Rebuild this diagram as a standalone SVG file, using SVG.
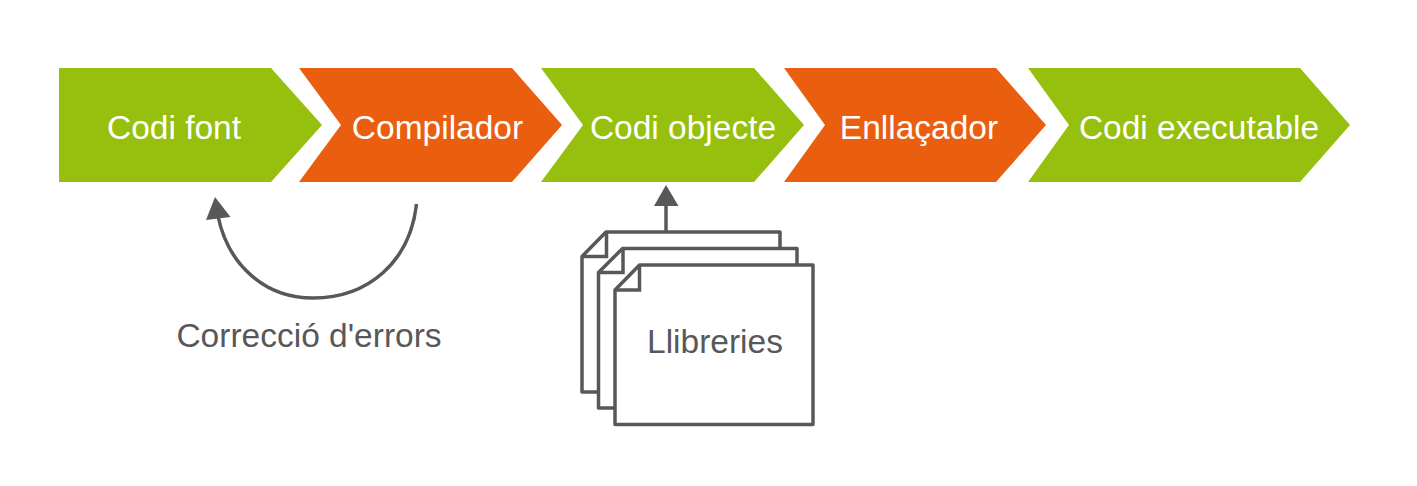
<svg xmlns="http://www.w3.org/2000/svg" width="1417" height="486" viewBox="0 0 1417 486">
<style>
.g{fill:#97bf0d}.o{fill:#ea5e0f}
.w{font:33.5px "Liberation Sans",Arial,sans-serif;fill:#fff;text-anchor:middle}
.d{font:33.5px "Liberation Sans",Arial,sans-serif;fill:#58585a;text-anchor:middle}
.p{fill:#fff;stroke:#58585a;stroke-width:3.5;stroke-linejoin:round}
.l{fill:none;stroke:#58585a;stroke-width:3.5}
.a{fill:#58585a}
</style>
<rect width="1417" height="486" fill="#fff"/>
<g id="codi-font"><polygon class="g" points="59,68 271,68 322,125 271,182 59,182"/><text class="w" x="174" y="139">Codi font</text></g>
<g id="compilador"><polygon class="o" points="299,68 512,68 562,125 512,182 299,182 341,125"/><text class="w" x="437.500" y="139">Compilador</text></g>
<g id="codi-objecte"><polygon class="g" points="541,68 754,68 804,125 754,182 541,182 583,125"/><text class="w" x="683" y="139">Codi objecte</text></g>
<g id="enllacador"><polygon class="o" points="784,68 996,68 1046,125 996,182 784,182 825,125"/><text class="w" x="919" y="139">Enllaçador</text></g>
<g id="codi-executable"><polygon class="g" points="1028,68 1300,68 1350,125 1300,182 1028,182 1069,125"/><text class="w" x="1199" y="139">Codi executable</text></g>
<g id="connectors">
<path class="l" d="M416.500,204C410,262 368,298 313,298C265,298 228,265 218,216"/>
<polygon class="a" points="215,197 230.500,217 206,220"/>
<line class="l" x1="666" y1="232" x2="666" y2="204"/>
<polygon class="a" points="666,185 678.500,206 654,206"/>
</g>
<g id="llibreries">
<polygon class="p" points="606,232 780,232 780,392 582,392 582,256.500"/><path class="l" d="M606.500,232V256.500H582"/>
<polygon class="p" points="622.500,248.500 797,248.500 797,408 598.500,408 598.500,272.500"/><path class="l" d="M623,248.500V272.500H598.500"/>
<polygon class="p" points="639.500,265 813,265 813,424.500 615,424.500 615,290"/><path class="l" d="M639.500,265V290H615"/>
<text class="d" x="715" y="353">Llibreries</text>
</g>
<text id="correccio" class="d" x="309" y="347">Correcció d'errors</text>
</svg>
